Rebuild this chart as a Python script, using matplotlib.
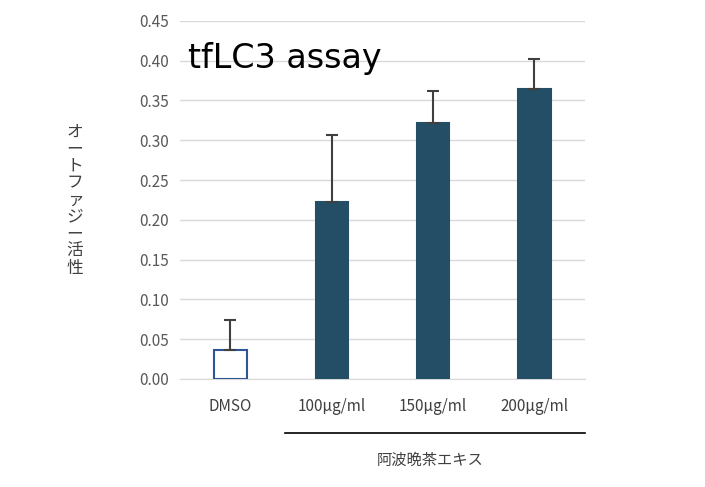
import matplotlib
matplotlib.use("Agg")
import matplotlib.pyplot as plt

plt.rcParams['font.family'] = ['Noto Sans CJK JP', 'DejaVu Sans']

categories = ["DMSO", "100μg/ml", "150μg/ml", "200μg/ml"]
values = [0.036, 0.222, 0.322, 0.364]
errors = [0.038, 0.085, 0.040, 0.038]
yticks = [0.00, 0.05, 0.10, 0.15, 0.20, 0.25, 0.30, 0.35, 0.40, 0.45]

fig = plt.figure(figsize=(7.05, 4.87), dpi=100)
ax = fig.add_axes([0.255, 0.222, 0.575, 0.735])
dark = "#234e66"
x = list(range(len(categories)))
fc = ["white"] + [dark] * 3
ec = ["#2f5597"] + [dark] * 3
ax.bar(x, values, width=0.32, color=fc, edgecolor=ec, linewidth=1.5, zorder=3)
ax.errorbar(x, values, yerr=[[0]*4, errors], fmt="none", ecolor="#404040",
            elinewidth=1.5, capsize=4, capthick=1.5, zorder=4)
ax.set_ylim(0, 0.45)
ax.set_xlim(-0.5, 3.5)
ax.set_yticks(yticks)
ax.set_yticklabels([f"{t:.2f}" for t in yticks], color="#595959", fontsize=11)
ax.set_xticks(x)
ax.set_xticklabels(categories, fontsize=11, color="#404040")
ax.tick_params(length=0, pad=8)
ax.tick_params(axis='x', pad=14)
ax.yaxis.grid(True, color="#d9d9d9", linewidth=1, zorder=0)
for s in ["top", "right", "left"]:
    ax.spines[s].set_visible(False)
ax.spines["bottom"].set_color("#d9d9d9")

ax.text(0.02, 0.94, "tfLC3 assay", transform=ax.transAxes, fontsize=24,
        va="top", ha="left", color="black", family=['DejaVu Sans'])

fig.text(75/705, 1-200/487, "\n".join("オートファジー活性"), ha="center", va="center",
         fontsize=12, linespacing=1.0, color="#404040")
fig.add_artist(plt.Line2D([285/705, 585/705], [1-433/487, 1-433/487],
                          color="black", linewidth=1.2))
fig.text(430/705, 1-460/487, "阿波晩茶エキス", ha="center", va="center",
         fontsize=11, color="#404040")
fig.savefig("out.png", dpi=100)
